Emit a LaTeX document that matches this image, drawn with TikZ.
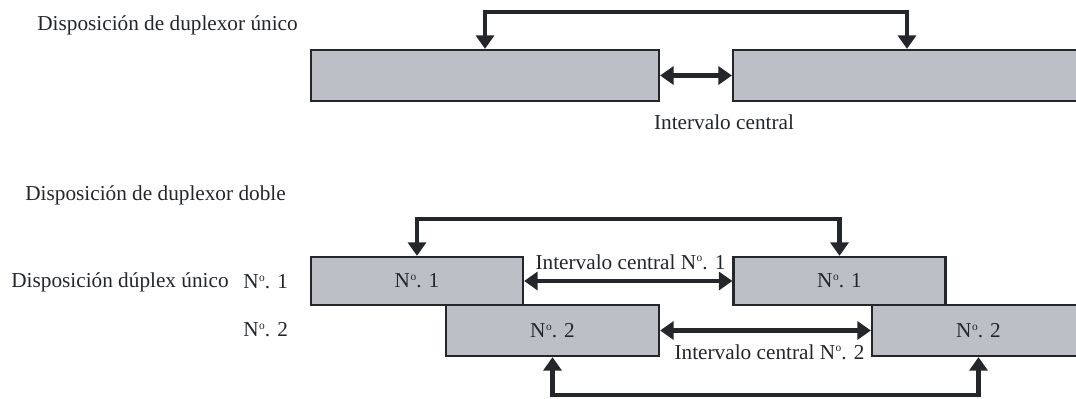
\documentclass[tikz,border=0pt]{standalone}
\usepackage{fontspec}
\setmainfont{Liberation Serif}
\usetikzlibrary{arrows.meta}

\definecolor{boxgray}{RGB}{188,191,198}
\definecolor{inkdark}{RGB}{35,38,42}

\newcommand{\nro}{N\kern.3pt\raisebox{.75ex}{\fontsize{6.5}{7}\selectfont o}}

\tikzset{
  lbl/.style={text=inkdark, inner sep=0pt, font=\fontsize{12.1}{14}\selectfont},
  band/.style={lbl, draw=inkdark, line width=1.3pt, fill=boxgray, minimum height=1.02cm},
  link/.style={draw=inkdark, line width=2.8pt,
    {Triangle[length=0.27cm,width=0.36cm]}-{Triangle[length=0.27cm,width=0.36cm]}}
}

\begin{document}
\begin{tikzpicture}[x=0.02cm, y=0.02cm]
  \useasboundingbox (0,0) rectangle (1076,399);
  \clip (0,0) rectangle (1076,399);

  % Single duplexer
  \node[lbl, anchor=west] (titleA) at (37,374) {Disposición de duplexor único};
  \node[band, minimum width=6.96cm] (sL) at (485,323.5) {};
  \node[band, minimum width=6.96cm] (sR) at (907,323.5) {};
  \coordinate (sTop) at (0,387);
  \draw[link] (sL.north) -- (sL.north |- sTop) -| (sR.north);
  \draw[link] (sL.east) -- (sR.west);
  \node[lbl] (gapA) at (724,277) {Intervalo central};

  % Double duplexer
  \node[lbl, anchor=west] (titleB) at (25,204) {Disposición de duplexor doble};
  \node[lbl, anchor=west] (rowA) at (11,117) {Disposición dúplex único};
  \node[lbl, anchor=west] (rowA1) at (243,117) {\nro. 1};
  \node[lbl, anchor=west] (rowA2) at (243,69) {\nro. 2};

  % Row 1 and row 2 boxes
  \node[band, minimum width=4.24cm, minimum height=0.96cm] (dA1) at (417,118) {\nro. 1};
  \node[band, minimum width=4.24cm, minimum height=0.96cm] (dB1) at (839.5,118) {\nro. 1};
  \node[band, minimum width=4.26cm] (dA2) at (552.5,68.5) {\nro. 2};
  \node[band, minimum width=4.26cm] (dB2) at (978.5,68.5) {\nro. 2};

  % Loops
  \coordinate (dTop) at (0,180);
  \coordinate (dBot) at (0,4);
  \draw[link] (dA1.north) -- (dA1.north |- dTop) -| (dB1.north);
  \draw[link] (dA2.south) -- (dA2.south |- dBot) -| (dB2.south);

  % Centre gaps
  \draw[link] (dA1.east) -- (dB1.west);
  \draw[link] (dA2.east) -- (dB2.west);
  \node[lbl] (gapB1) at (630.5,137) {Intervalo central \nro. 1};
  \node[lbl] (gapB2) at (769.5,47) {Intervalo central \nro. 2};

\end{tikzpicture}
\end{document}
